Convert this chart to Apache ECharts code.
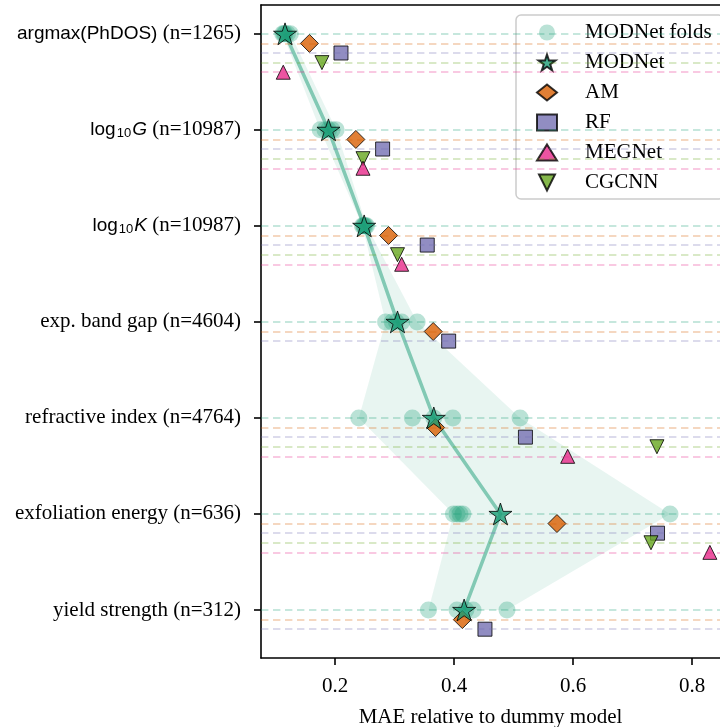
<!DOCTYPE html>
<html>
<head>
<meta charset="utf-8">
<script src="https://cdn.jsdelivr.net/npm/echarts@6/dist/echarts.min.js"></script>
<style>
  html, body { margin: 0; padding: 0; background: #ffffff; }
  #chart { width: 720px; height: 727px; }
</style>
</head>
<body>
<div id="chart"></div>
<script>
// Benchmark tasks (top to bottom) and their dataset sizes
const tasks = ['argmax(PhDOS)', 'log10G', 'log10K', 'exp. band gap', 'refractive index', 'exfoliation energy', 'yield strength'];
const taskSizes = [1265, 10987, 10987, 4604, 4764, 636, 312];

// MAE relative to the dummy model, one row per task
const modnetFolds = [
  [0.112, 0.114, 0.116, 0.120, 0.125],
  [0.175, 0.183, 0.189, 0.195, 0.202],
  [0.246, 0.248, 0.249, 0.251, 0.253],
  [0.285, 0.296, 0.303, 0.312, 0.338],
  [0.240, 0.330, 0.366, 0.398, 0.511],
  [0.399, 0.405, 0.410, 0.415, 0.763],
  [0.357, 0.405, 0.420, 0.432, 0.489]
];
const modnet = [0.116, 0.189, 0.249, 0.305, 0.366, 0.478, 0.417];
const am     = [0.157, 0.235, 0.290, 0.365, 0.369, 0.573, 0.414];
const rf     = [0.210, 0.280, 0.355, 0.391, 0.520, 0.742, 0.452];
const megnet = [0.113, 0.247, 0.312, null, 0.591, 0.830, null];
const cgcnn  = [0.178, 0.247, 0.305, null, 0.741, 0.731, null];

const xTicks = [0.2, 0.4, 0.6, 0.8];

// Dark2 colours
const C = {
  modnet: '#1b9e77', am: '#d95f02', rf: '#7570b3', megnet: '#e7298a', cgcnn: '#66a61e'
};
function rgba(hex, a) {
  const n = parseInt(hex.slice(1), 16);
  return 'rgba(' + (n >> 16) + ',' + ((n >> 8) & 255) + ',' + (n & 255) + ',' + a + ')';
}

const rowIdx = tasks.map((_, i) => i);
const foldMin = modnetFolds.map(r => Math.min.apply(null, r));
const foldMax = modnetFolds.map(r => Math.max.apply(null, r));

const STAR = 'path://M0,-1L0.2245,-0.309L0.951,-0.309L0.363,0.118L0.588,0.809L0,0.382L-0.588,0.809L-0.363,0.118L-0.951,-0.309L-0.2245,-0.309Z';
const TRI_DOWN = 'path://M0,0L2,0L1,2Z';
const SERIF = '"Liberation Serif", "Times New Roman", serif';
const SANS = '"Liberation Sans", Arial, sans-serif';

// Points at (value, row + offset); missing values skipped
function points(vals, off) {
  const out = [];
  vals.forEach((v, i) => { if (v !== null) out.push([v, i + off]); });
  return out;
}
// Faint dashed guide line for each row the model has a result on
function guides(vals, off, color) {
  return {
    silent: true,
    symbol: ['none', 'none'],
    label: { show: false },
    emphasis: { disabled: true },
    lineStyle: { type: [7.4, 4.6], width: 2, color: rgba(color, 0.25) },
    data: vals.map((v, i) => v === null ? null : { yAxis: i + off }).filter(d => d)
  };
}

// Row label: sans-serif quantity name (log10 with subscript), serif sample count
function taskLabel(i) {
  const name = tasks[i];
  const n = '{rm| (n=' + taskSizes[i] + ')}';
  if (name.indexOf('log10') === 0) {
    return '{sf|log}{sub|10}{it|' + name.slice(5) + '}' + n;
  }
  if (name.indexOf('(') >= 0) {
    return '{sf|' + name + '}' + n;
  }
  return '{rm|' + name + ' (n=' + taskSizes[i] + ')}';
}

const markerBorder = { borderColor: '#000', borderWidth: 1 };

const foldPoints = [];
modnetFolds.forEach((r, i) => r.forEach(v => foldPoints.push([v, i])));

const chart = echarts.init(document.getElementById('chart'), null, { renderer: 'canvas' });

chart.setOption({
  animation: false,
  backgroundColor: '#ffffff',
  grid: { left: 261, right: 0, top: 5, bottom: 69, containLabel: false, outerBoundsMode: 'none' },
  xAxis: [{
    type: 'value',
    min: 0.0756, max: 0.847,
    splitLine: { show: false },
    axisLine: { show: true, onZero: false, lineStyle: { color: '#000', width: 1.6 } },
    axisTick: { show: true, inside: false, length: 7, customValues: xTicks, lineStyle: { color: '#000', width: 1.6 } },
    axisLabel: {
      customValues: xTicks, margin: 18,
      formatter: v => v.toFixed(1),
      fontFamily: SERIF, fontSize: 21, color: '#000'
    },
    name: 'MAE relative to dummy model',
    nameLocation: 'middle', nameGap: 49,
    nameTextStyle: { fontFamily: SERIF, fontSize: 21, color: '#000' }
  }, {
    type: 'value', position: 'top',
    min: 0.0756, max: 0.847,
    splitLine: { show: false },
    axisLine: { show: true, onZero: false, lineStyle: { color: '#000', width: 1.6 } },
    axisTick: { show: false }, axisLabel: { show: false }
  }],
  yAxis: {
    type: 'value', inverse: true,
    min: -0.3, max: 6.5,
    splitLine: { show: false },
    axisLine: { show: true, onZero: false, lineStyle: { color: '#000', width: 1.6 } },
    axisTick: { show: true, length: 7, customValues: rowIdx, lineStyle: { color: '#000', width: 1.6 } },
    axisLabel: {
      customValues: rowIdx, margin: 20,
      formatter: v => taskLabel(Math.round(v)),
      fontFamily: SERIF, fontSize: 21, color: '#000',
      rich: {
        rm: { fontFamily: SERIF, fontSize: 21, color: '#000' },
        sf: { fontFamily: SANS, fontSize: 19, color: '#000' },
        it: { fontFamily: SANS, fontSize: 19, fontStyle: 'italic', color: '#000' },
        sub: { fontFamily: SANS, fontSize: 13, color: '#000', verticalAlign: 'bottom', padding: [0, 1, 0, 1] }
      }
    }
  },
  legend: {
    orient: 'vertical',
    left: 516, top: 15,
    padding: [7, 12, 6, 20],
    itemWidth: 20, itemHeight: 16, itemGap: 9,
    selectedMode: false,
    backgroundColor: 'rgba(255,255,255,0.8)',
    borderColor: '#cccccc', borderWidth: 1.5, borderRadius: 5,
    textStyle: { fontFamily: SERIF, fontSize: 21, lineHeight: 21, color: '#000', padding: [0, 0, 0, 23] },
    data: ['MODNet folds', 'MODNet', 'AM', 'RF', 'MEGNet', { name: 'CGCNN', icon: TRI_DOWN }]
  },
  series: [
    {
      // spread between the best and worst fold of each task
      type: 'custom', name: 'fold spread', silent: true, z: 1,
      data: [[foldMin[0], 0]],
      renderItem: (params, api) => {
        const pts = [];
        foldMin.forEach((v, i) => pts.push(api.coord([v, i])));
        for (let i = foldMax.length - 1; i >= 0; i--) pts.push(api.coord([foldMax[i], i]));
        return { type: 'polygon', shape: { points: pts }, style: { fill: rgba(C.modnet, 0.1) } };
      }
    },
    {
      type: 'scatter', name: 'MODNet folds', z: 2,
      symbol: 'circle', symbolSize: 17,
      itemStyle: { color: C.modnet, opacity: 0.3 },
      data: foldPoints,
      markLine: guides(modnet, 0, C.modnet)
    },
    {
      type: 'line', name: 'MODNet mean', z: 3, silent: true,
      showSymbol: false, symbol: 'none',
      lineStyle: { color: rgba(C.modnet, 0.5), width: 3.5 },
      data: points(modnet, 0)
    },
    {
      type: 'scatter', name: 'AM', z: 4,
      symbol: 'diamond', symbolSize: 18,
      itemStyle: Object.assign({ color: C.am }, markerBorder),
      data: points(am, 0.1),
      markLine: guides(am, 0.1, C.am)
    },
    {
      type: 'scatter', name: 'RF', z: 4,
      symbol: 'rect', symbolSize: 14,
      itemStyle: Object.assign({ color: C.rf }, markerBorder),
      data: points(rf, 0.2),
      markLine: guides(rf, 0.2, C.rf)
    },
    {
      type: 'scatter', name: 'CGCNN', z: 4,
      symbol: TRI_DOWN, symbolSize: 14,
      itemStyle: Object.assign({ color: C.cgcnn }, markerBorder),
      data: points(cgcnn, 0.3),
      markLine: guides(cgcnn, 0.3, C.cgcnn)
    },
    {
      type: 'scatter', name: 'MEGNet', z: 4,
      symbol: 'triangle', symbolSize: 14,
      itemStyle: Object.assign({ color: C.megnet }, markerBorder),
      data: points(megnet, 0.4),
      markLine: guides(megnet, 0.4, C.megnet)
    },
    {
      type: 'scatter', name: 'MODNet', z: 5,
      symbol: STAR, symbolKeepAspect: true, symbolSize: 23,
      itemStyle: Object.assign({ color: C.modnet }, markerBorder),
      data: points(modnet, 0)
    }
  ]
});
</script>
</body>
</html>
